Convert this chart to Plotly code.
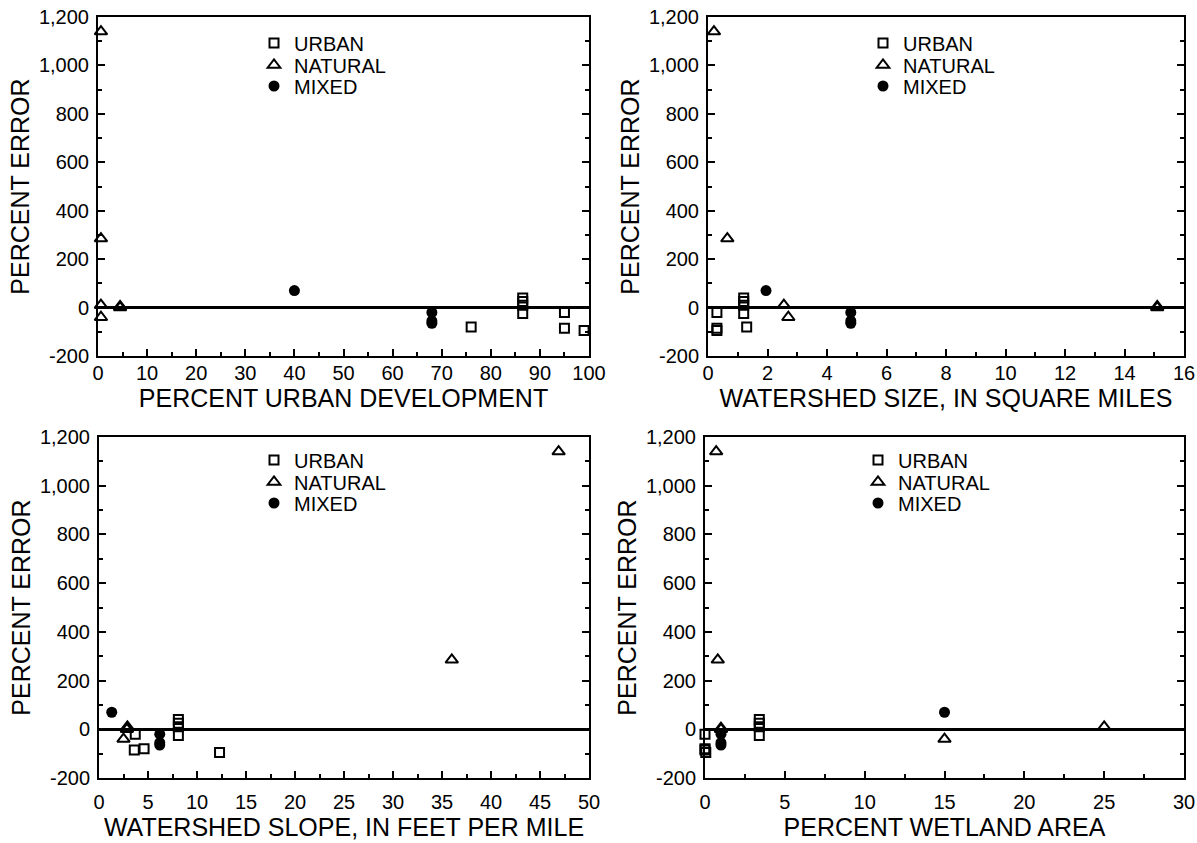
import plotly.graph_objects as go

# ---- data ----
# percent error of each watershed, by land-use class
urban_err   = [40, 25, 10, -25, -20, -80, -85, -95]
natural_err = [1140, 285, 10, -40, 5, 0]
mixed_err   = [70, -20, -55, -65]

# percent urban development
urban_dev   = [86.5, 86.5, 86.5, 86.5, 95, 76, 95, 99]
natural_dev = [0.6, 0.6, 0.6, 0.6, 4.5, 4.5]
mixed_dev   = [40, 68, 68, 68]

# watershed size, square miles
urban_size   = [1.2, 1.2, 1.2, 1.2, 0.3, 1.3, 0.3, 0.3]
natural_size = [0.2, 0.65, 2.55, 2.7, 15.1, 15.1]
mixed_size   = [1.95, 4.8, 4.8, 4.8]

# watershed slope, feet per mile
urban_slope   = [8.1, 8.1, 8.1, 8.1, 3.7, 4.6, 3.6, 12.3]
natural_slope = [46.9, 36, 2.9, 2.5, 2.85, 2.85]
mixed_slope   = [1.3, 6.2, 6.2, 6.2]

# percent wetland area
urban_wet   = [3.4, 3.4, 3.4, 3.4, 0, 0, 0, 0.05]
natural_wet = [0.7, 0.8, 25, 15, 1.0, 1.0]
mixed_wet   = [15, 1.0, 1.0, 1.0]

y_tickvals = [-200, 0, 200, 400, 600, 800, 1000, 1200]
y_ticktext = ["-200", "0", "200", "400", "600", "800", "1,000", "1,200"]

class_names = ["URBAN", "NATURAL", "MIXED"]

panels = [
    dict(x=(urban_dev, natural_dev, mixed_dev), rng=[0, 100], dtick=10, minor=5,
         title="PERCENT URBAN DEVELOPMENT"),
    dict(x=(urban_size, natural_size, mixed_size), rng=[0, 16], dtick=2, minor=1,
         title="WATERSHED SIZE, IN SQUARE MILES"),
    dict(x=(urban_slope, natural_slope, mixed_slope), rng=[0, 50], dtick=5, minor=2.5,
         title="WATERSHED SLOPE, IN FEET PER MILE"),
    dict(x=(urban_wet, natural_wet, mixed_wet), rng=[0, 30], dtick=5, minor=2.5,
         title="PERCENT WETLAND AREA"),
]

W, H = 1197, 843
frames = [  # left, right, top, bottom in pixels
    (98, 589, 17, 356),
    (708, 1184, 17, 356),
    (99, 589, 437, 778),
    (705, 1184, 437, 778),
]
legend_left = [254, 863, 254, 858]          # px, left edge of legend block
legend_rows = [(43, 65, 86), (43, 65, 86), (460, 482, 503), (460, 482, 503)]
label_shift = [-2, -2, 5, 5]

FONT = "Liberation Sans, Arial, Helvetica, sans-serif"
markers = [
    dict(symbol="square-open", size=9, color="black", line=dict(width=2, color="black")),
    dict(symbol="triangle-up-open", size=11, color="black", line=dict(width=2, color="black")),
    dict(symbol="circle", size=11, color="black"),
]
errs = [urban_err, natural_err, mixed_err]

fig = go.Figure()
leg_i = 0
for i, (p, fr) in enumerate(zip(panels, frames)):
    n = i + 1
    xa = "x" if n == 1 else f"x{n}"
    ya = "y" if n == 1 else f"y{n}"
    for k in range(3):
        leg_i += 1
        lg = "legend" if leg_i == 1 else f"legend{leg_i}"
        fig.add_trace(go.Scatter(x=p["x"][k], y=errs[k], mode="markers", name=class_names[k],
                                 xaxis=xa, yaxis=ya, legend=lg, cliponaxis=False,
                                 marker=markers[k]))
        fig.layout[lg] = dict(x=legend_left[i] / W, y=1 - legend_rows[i][k] / H,
                              xanchor="left", yanchor="middle",
                              bgcolor="rgba(0,0,0,0)", borderwidth=0,
                              font=dict(family=FONT, size=20, color="black"),
                              itemsizing="trace", itemwidth=30)

    l, r, t, b = fr
    xdom = [l / W, r / W]
    ydom = [1 - b / H, 1 - t / H]
    common = dict(showline=True, linewidth=2, linecolor="black",
                  ticks="inside", ticklen=7, tickwidth=2, tickcolor="black",
                  showgrid=False,
                  tickfont=dict(family=FONT, size=20, color="black"))
    xkey = "xaxis" if n == 1 else f"xaxis{n}"
    ykey = "yaxis" if n == 1 else f"yaxis{n}"
    fig.layout[xkey] = dict(domain=xdom, anchor=ya, range=p["rng"], dtick=p["dtick"],
                            tick0=0, zeroline=False, mirror=True,
                            ticklabelstandoff=label_shift[i], ticklabeloverflow="allow",
                            minor=dict(dtick=p["minor"], ticks="inside", ticklen=4,
                                       tickwidth=1.5, tickcolor="black", showgrid=False),
                            title=dict(text=p["title"], standoff=2,
                                       font=dict(family=FONT, size=25, color="black")),
                            **common)
    fig.layout[ykey] = dict(domain=ydom, anchor=xa, range=[-200, 1200],
                            tickvals=y_tickvals, ticktext=y_ticktext, mirror="ticks",
                            ticklabelstandoff=3,
                            zeroline=True, zerolinewidth=3, zerolinecolor="black",
                            minor=dict(dtick=100, ticks="inside", ticklen=4,
                                       tickwidth=1.5, tickcolor="black", showgrid=False),
                            title=dict(text="PERCENT ERROR", standoff=2,
                                       font=dict(family=FONT, size=25, color="black")),
                            **common)

fig.update_layout(width=W, height=H, margin=dict(l=0, r=0, t=0, b=0, autoexpand=False),
                  paper_bgcolor="white", plot_bgcolor="white", showlegend=True)

fig.write_html("out.html", config={"displayModeBar": False},
               post_script="document.body.style.margin='0';document.body.style.overflow='hidden';")
